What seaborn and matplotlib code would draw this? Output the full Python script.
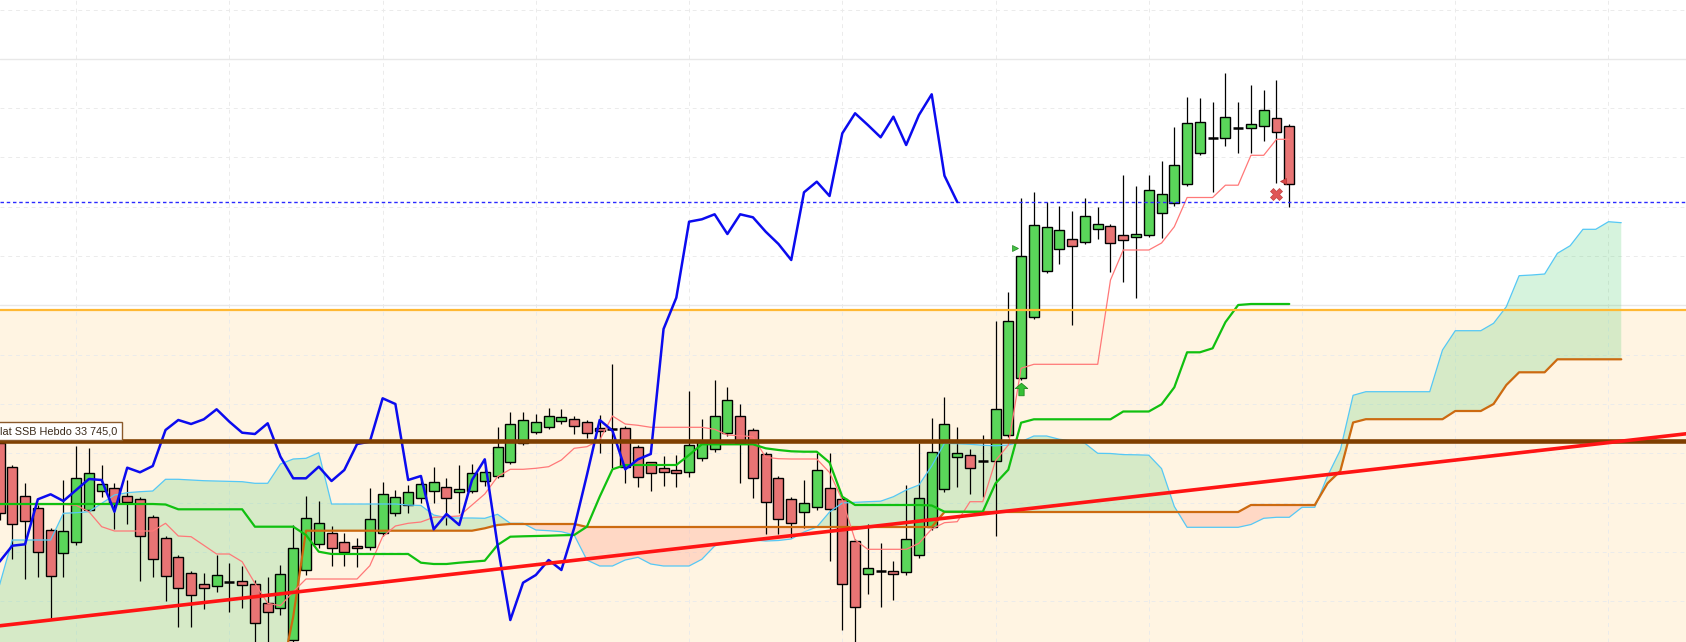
import numpy as np
import pandas as pd
import matplotlib
matplotlib.use("Agg")
import matplotlib.pyplot as plt
import matplotlib.ticker as ticker
import matplotlib.transforms as mtransforms
from matplotlib.path import Path
import seaborn as sns

# --- daily candles (index 0 = leftmost, partially visible) ---
opens = [33725, 33482, 33192, 33072, 32852, 32622, 32732, 33055, 33242, 33272,
         33192, 33162, 32985, 32772, 32582, 32425, 32315, 32292, 32335, 32342,
         32318, 32125, 32072, 31755, 32455, 32712, 32822, 32738, 32695, 32682,
         32822, 33022, 33105, 33175, 33245, 33288, 33232, 33245, 33345, 33395,
         33532, 33722, 33832, 33882, 33945, 33962, 33932, 33872, 33865, 33872,
         33682, 33532, 33472, 33452, 33438, 33572, 33662, 33822, 33992, 33852,
         33612, 33372, 33162, 33038, 33082, 33272, 33162, 32742, 32412, 32442,
         32442, 32432, 32602, 32882, 33262, 33582, 33602, 33545, 33545, 33802,
         34372, 34982, 35442, 35662, 35762, 35732, 35862, 35892, 35802, 35782,
         35802, 36022, 36122, 36312, 36622, 36778, 36772, 36878, 36872, 36895,
         36972, 36898]
closes = [33025, 32912, 32942, 32638, 32392, 32842, 33372, 33422, 33312, 33128,
          33132, 32792, 32562, 32392, 32272, 32202, 32272, 32402, 32335, 32302,
          31922, 32032, 32412, 32672, 32972, 32922, 32672, 32638, 32672, 32962,
          33212, 33182, 33238, 33312, 33338, 33172, 33262, 33428, 33438, 33682,
          33912, 33952, 33932, 33998, 33988, 33895, 33822, 33845, 33865, 33488,
          33382, 33422, 33432, 33422, 33702, 33738, 33992, 34152, 33722, 33372,
          33132, 32962, 32922, 33122, 33452, 33062, 32312, 32082, 32472, 32442,
          32418, 32762, 33172, 33632, 33912, 33622, 33472, 33545, 34062, 34942,
          35598, 35902, 35882, 35852, 35692, 35992, 35915, 35722, 35755, 35812,
          36255, 36212, 36502, 36922, 36932, 36778, 36982, 36878, 36915, 37052,
          36832, 36312]
highs = [33925, 33505, 33322, 33105, 32875, 33355, 33695, 33672, 33505, 33325,
         33355, 33185, 33005, 32795, 32605, 32445, 32428, 32605, 32528, 32495,
         32355, 32382, 32505, 32905, 33195, 33145, 32898, 32825, 32772, 33278,
         33332, 33255, 33305, 33365, 33485, 33375, 33502, 33512, 33495, 33882,
         34032, 34032, 34015, 34072, 34062, 33995, 33955, 34002, 34515, 33895,
         33705, 33535, 33595, 33605, 34245, 33965, 34355, 34285, 34115, 33875,
         33635, 33395, 33185, 33355, 33622, 33628, 33185, 32765, 32915, 32722,
         32542, 33305, 33728, 33978, 34185, 33888, 33665, 33805, 34948, 35232,
         36172, 36232, 36132, 36095, 36045, 36172, 36082, 35918, 36408, 36298,
         36408, 36545, 36885, 37182, 37172, 37138, 37422, 37132, 37305, 37255,
         37355, 36915]
lows = [32955, 32562, 32365, 32388, 31978, 32388, 32705, 33035, 33182, 32862,
        32915, 32348, 32382, 32145, 31888, 31888, 32065, 32238, 32032, 32075,
        31705, 31735, 32005, 31705, 32405, 32675, 32498, 32498, 32482, 32655,
        32795, 32995, 33028, 33125, 33122, 32905, 33028, 33225, 33295, 33375,
        33515, 33705, 33815, 33865, 33912, 33812, 33772, 33622, 33472, 33322,
        33282, 33248, 33298, 33288, 33388, 33545, 33635, 33795, 33328, 33172,
        32812, 32812, 32772, 32872, 33055, 32548, 31855, 31705, 32212, 32082,
        32152, 32405, 32575, 32855, 33235, 33288, 33212, 33188, 32795, 33785,
        34355, 34965, 35428, 35518, 34908, 35715, 35762, 35435, 35338, 35178,
        35785, 35778, 36095, 36295, 36605, 36238, 36698, 36628, 36628, 36748,
        36328, 36088]

# --- Ichimoku lines ---
tenkan = ([33110] * 6 + [33102, 33038, 32888] + [32845] * 4 +
          [32922, 32795, 32788, 32702, 32615, 32615, 32538, 32322, 32122, 32098, 32238] +
          [32365] * 5 +
          [32498, 32788, 32895, 32922, 32935, 32982, 32988, 32995, 33105, 33215,
           33388, 33462, 33462, 33472, 33488, 33555, 33672, 33688, 33755, 33995,
           33915, 33902] + [33882] * 5 +
          [33862, 33805, 33798, 33788, 33582, 33568] + [33565] * 3 +
          [33430, 33155, 32755] + [32662] * 4 +
          [32722, 32865, 32928, 32938, 33138, 33138, 33548, 33705, 34472] + [34512] * 6 +
          [35355] + [35655] * 3 + [35725, 35888] + [36180] * 3 +
          [36303, 36303, 36602, 36602, 36762, 36762])
kijun = ([33115] * 13 + [33110] + [33062] * 6 + [32888] * 4 + [32805, 32638] +
         [32615] * 7 +
         [32528, 32515, 32515, 32528, 32538, 32548, 32705, 32788, 32792, 32795,
          32798, 32802, 32805, 32888, 33188, 33462] + [33505] * 5 + [33605] +
         [33712] * 5 + [33672, 33655, 33642, 33638, 33638, 33530, 33188] +
         [33105] * 6 + [33100] + [33038] * 4 + [33322, 33458, 33928] + [33962] * 7 +
         [34040] * 3 + [34112, 34282, 34632, 34632, 34672, 34933, 35105] + [35115] * 4)
span_a = ([32305] + [32755] * 4 +
          [33022, 33028, 33038, 33122, 33205, 33228, 33238, 33245, 33362, 33362,
           33355, 33348, 33345, 33342, 33338, 33322, 33322, 33515, 33565, 33572, 33628] +
          [33115] * 6 +
          [33105, 33100, 33005, 32978, 32975, 32975, 32972, 33012, 32922, 32922,
           32855, 32848, 32838, 32805, 32555, 32495, 32495, 32555, 32582, 32515] +
          [32495] * 3 +
          [32562, 32695, 32738, 32745, 32755, 32745, 32750, 32765, 32835, 32885,
           33035, 33125, 33132, 33138, 33143, 33188, 33255, 33305, 33495, 33722,
           33718, 33712, 33703, 33697, 33705, 33738, 33795, 33795, 33762, 33748,
           33722, 33622, 33620, 33609, 33607, 33603, 33469, 33090] +
          [32882] * 5 +
          [32910, 32972, 32982, 32982, 33082, 33082, 33395, 33655, 34202] +
          [34238] * 6 + [34655] + [34848] * 3 +
          [34922, 35088, 35398, 35405, 35415, 35622, 35698, 35862, 35862, 35938, 35928])
span_b = ([31355] * 23 + [31988] + [32848] * 14 + [32872, 32905] + [32915] * 6 +
          [32885] * 28 + [33035] * 24 + [33105] * 6 + [33322, 33445, 33930] +
          [33963] * 7 + [34045] * 3 + [34115, 34305] + [34432] * 3 + [34562] * 6)
chikou = [32538, 32698, 32712, 33162, 33212, 33145, 33255, 33365, 33355, 33038,
          33478, 33432, 33495, 33855, 33955, 33915, 33962, 34062, 33938, 33828,
          33815, 33922, 33588, 33372, 33372, 33488, 33345, 33455, 33715, 33738,
          34172, 34115, 33355, 33395, 32862, 33015, 32905, 33355, 33562, 32705,
          31955, 32328, 32405, 32555, 32455, 32875, 33405, 33955, 33848, 33462,
          33562, 33615, 34865, 35178, 35938, 35962, 36012, 35815, 36012, 35982,
          35838, 35715, 35555, 36232, 36338, 36195, 36822, 37022, 36905, 36782,
          36988, 36705, 37005, 37212, 36398, 36135]

# --- levels and signals ---
ssb_weekly = 33745.0
ssb_label = "lat SSB Hebdo 33 745,0"   # left part of the tag is cut by the chart edge
resistance = 35058
last_price = 36135
grey_levels = [37567, 35102]
trend_pts = [(0, 31897), (132, 33816)]
buy_arrow = (80, 34265)
buy_flag = (79.55, 35675)
exit_cross = (100, 36218)
exit_flag = (100.5, 36345)

sns.set_style("white")
plt.rcParams["font.family"] = ["Liberation Sans", "DejaVu Sans"]

fig = plt.figure(figsize=(16.86, 6.42), dpi=100)
ax = fig.add_axes([0, 0, 1, 1])
ax.set_xlim(0.037, 132.07)
ax.set_ylim(31735, 38155)
ax.set_facecolor("white")

# beige zone under the horizontal resistance
ax.axhspan(31735, resistance, color="#fff4e2", lw=0, zorder=0)

# grid
ax.xaxis.set_major_locator(ticker.MultipleLocator(12, offset=6))
ax.yaxis.set_major_locator(ticker.MultipleLocator(493, offset=99))
ax.grid(True, color="#ebebeb", linestyle=(0, (4, 4)), linewidth=0.7)
for lv in grey_levels:
    ax.axhline(lv, color="#e8e8e8", lw=1.0, zorder=0.6)
ax.tick_params(left=False, bottom=False, labelleft=False, labelbottom=False)
for s in ax.spines.values():
    s.set_visible(False)

# kumo
xc = np.arange(len(span_a))
sa = np.array(span_a, dtype=float)
sb = np.array(span_b, dtype=float)
ax.fill_between(xc, sa, sb, where=sa >= sb, interpolate=True,
                color="#5fd07a", alpha=0.25, lw=0, zorder=1)
ax.fill_between(xc, sa, sb, where=sa < sb, interpolate=True,
                color="#ffb09a", alpha=0.4, lw=0, zorder=1)

# candles
df = pd.DataFrame({"o": opens, "h": highs, "l": lows, "c": closes})
df["x"] = np.arange(len(df))
body_w = 0.78
ax.vlines(df["x"], df["l"], df["h"], color="black", lw=0.9, zorder=3)
real = df[df["o"] != df["c"]]
up = real["c"] > real["o"]
ax.bar(real["x"], (real["c"] - real["o"]).abs(), bottom=real[["o", "c"]].min(axis=1),
       width=body_w, color=np.where(up, "#5ad65a", "#e87474"),
       edgecolor="black", linewidth=1.0, zorder=3.2)
doji = df[df["o"] == df["c"]]
ax.hlines(doji["c"], doji["x"] - body_w / 2, doji["x"] + body_w / 2,
          color="black", lw=1.8, zorder=3.2)

# indicator lines
sns.lineplot(x=np.arange(len(span_a)), y=span_a, color="#55c8f5", linewidth=0.9, ax=ax, zorder=4)
sns.lineplot(x=np.arange(len(span_b)), y=span_b, color="#cc6a10", linewidth=1.6, ax=ax, zorder=4)
sns.lineplot(x=np.arange(len(tenkan)), y=tenkan, color="#ff7878", linewidth=0.9, ax=ax, zorder=4)
sns.lineplot(x=np.arange(len(kijun)), y=kijun, color="#10c010", linewidth=1.6, ax=ax, zorder=4)
sns.lineplot(x=np.arange(len(chikou)), y=chikou, color="#0b0bef", linewidth=1.8, ax=ax, zorder=5)

# horizontal levels and trend
ax.axhline(resistance, color="#ffb833", lw=1.6, zorder=4.5)
ax.axhline(last_price, color="#2a2aff", lw=1.0, linestyle=(0, (2.5, 2.0)), zorder=4.5)
ax.axhline(ssb_weekly, color="#7f3f00", lw=3.3, zorder=6)
ax.axline(trend_pts[0], trend_pts[1], color="#ff1414", lw=2.6, zorder=6)

# tag of the weekly SSB level, its box runs off the left edge
trans = mtransforms.blended_transform_factory(ax.transAxes, ax.transData)
ax.text(0.5 / 1686, ssb_weekly + 100, ssb_label, transform=trans, ha="left", va="center",
        fontsize=7.8, color="#3a2a1a", zorder=7,
        bbox=dict(boxstyle="square,pad=0.35", fc="white", ec="#8b5a2b", lw=1.0))

# signals
arrow = Path([(0, 1), (-1, 0.15), (-0.42, 0.15), (-0.42, -1), (0.42, -1), (0.42, 0.15),
              (1, 0.15), (0, 1)], closed=True)
ax.plot(*buy_arrow, marker=arrow, ms=9, color="#35c035", mec="#1f8a1f", mew=0.6, zorder=7)
ax.plot(*buy_flag, marker=">", ms=5, color="#45c045", mec="#1f8a1f", mew=0.5, zorder=7)
ax.plot(*exit_cross, marker="X", ms=8, color="#e05555", mec="#c04040", mew=0.5, zorder=7)
ax.plot(*exit_flag, marker="<", ms=4.5, color="#d84848", mec="#b03030", mew=0.5, zorder=7)

fig.savefig("out.png", dpi=100)
